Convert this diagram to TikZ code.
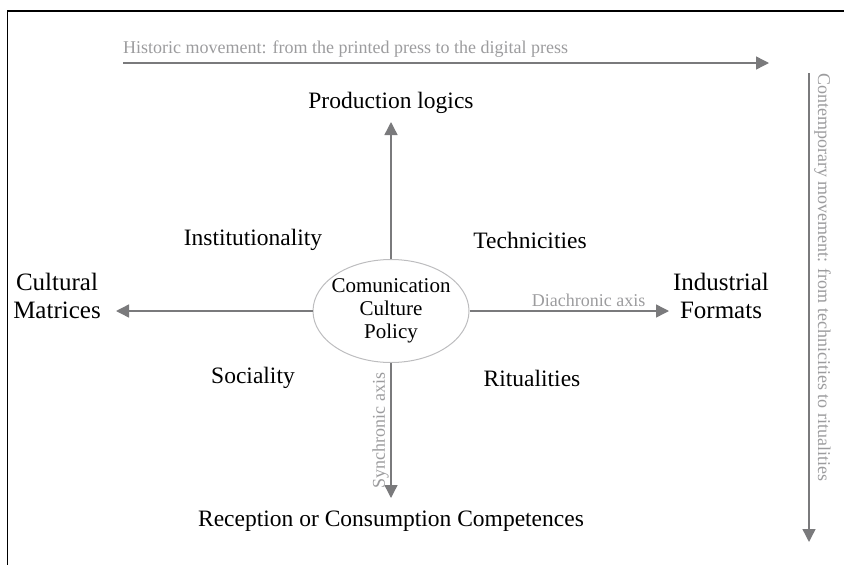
\documentclass[tikz,border=0pt]{standalone}
\usepackage{fontspec}
\setmainfont{Liberation Serif}
\usetikzlibrary{arrows.meta,shapes.geometric}
\definecolor{axisgray}{HTML}{7A7A7C}
\definecolor{notegray}{HTML}{9C9C9E}
\definecolor{ringgray}{HTML}{BDBDBF}
\begin{document}
\begin{tikzpicture}[x=1pt,y=-1pt,
  axis/.style={draw=axisgray,line width=1.4pt,-{Triangle[length=13pt,width=13pt]}},
  label/.style={font=\fontsize{23.5}{28}\selectfont,text=black,inner sep=0pt,align=center},
  note/.style={font=\fontsize{18}{20}\selectfont,text=notegray,inner sep=0pt}]
\useasboundingbox (0,0) rectangle (844,565);
% frame edges
\draw[black,line width=1.6pt] (7.5,570) -- (7.5,11) -- (850,11);
% central ellipse and its text
\node[ellipse,draw=ringgray,line width=1pt,minimum width=156pt,minimum height=103pt,
  inner sep=0pt] (core) at (391,311) {};
\node[font=\fontsize{21}{23}\selectfont,align=center,inner sep=0pt] (coretext) at (core.center)
  {Comunication\\Culture\\Policy};
% pole labels
\node[label] (prod) at (391,103) {Production logics};
\node[label] (recep) at (391,521) {Reception or Consumption Competences};
\node[label,font=\fontsize{25}{28}\selectfont] (matr) at (57,296) {Cultural\\Matrices};
\node[label,font=\fontsize{25}{28}\selectfont] (form) at (721,296) {Industrial\\Formats};
\node[label] (inst) at (253,240) {Institutionality};
\node[label] (tech) at (530,240) {Technicities};
\node[label] (soc) at (253,378) {Sociality};
\node[label] (rit) at (532,378) {Ritualities};
% axis end points
\coordinate (ptop) at (391,122);
\coordinate (pbot) at (391,498);
\coordinate (pleft) at (116,311);
\coordinate (pright) at (669,311);
\draw[axis] (core.north) -- (ptop);
\draw[axis] (core.south) -- node[note,rotate=90,anchor=south,pos=0.5,yshift=1.5pt] (syn) {Synchronic axis} (pbot);
\draw[axis] (core.east) -- node[note,anchor=south east,pos=0.9,yshift=4pt,xshift=-3pt] (dia) {Diachronic axis} (pright);
\draw[axis] (core.west) -- (pleft);
% historic and contemporary movements
\coordinate (hs) at (123,63);
\coordinate (he) at (769,63);
\draw[axis] (hs) -- (he);
\node[note,anchor=base west] (hist) at (123,53) {Historic movement: from the printed press to the digital press};
\coordinate (vs) at (809,73);
\coordinate (ve) at (809,542);
\draw[axis] (vs) -- (ve);
\node[note,rotate=-90,anchor=north west] (cont) at (831,73) {Contemporary movement: from technicities to ritualities};
\end{tikzpicture}
\end{document}
